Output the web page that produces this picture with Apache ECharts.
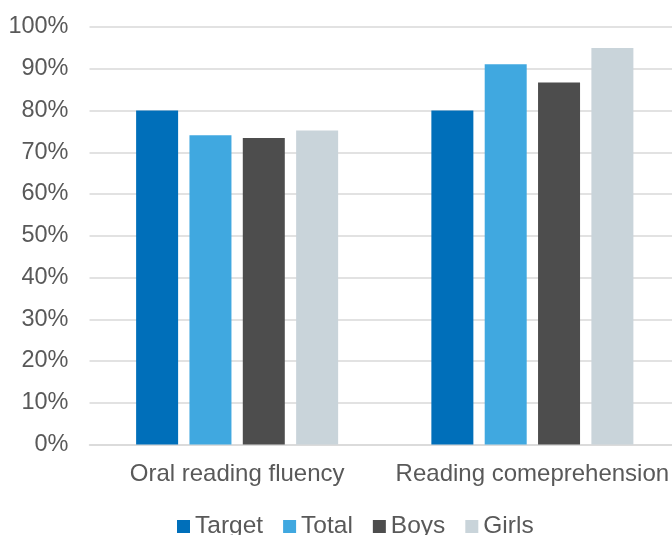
<!DOCTYPE html>
<html>
<head>
<meta charset="utf-8">
<script src="https://cdn.jsdelivr.net/npm/echarts@6/dist/echarts.min.js"></script>
<style>
  html, body { margin: 0; padding: 0; background: #fff; overflow: hidden; }
  #frame { width: 672px; height: 535px; overflow: hidden; }
  #chart { width: 680px; height: 535px; }
</style>
</head>
<body>
<div id="frame"><div id="chart"></div></div>
<script>
// Categories and percentage values for each group
const categories = ['Oral reading fluency', 'Reading comeprehension'];
const seriesNames = ['Target', 'Total', 'Boys', 'Girls'];
const targetValues = [80, 80];
const totalValues = [74.1, 91.1];
const boysValues = [73.4, 86.7];
const girlsValues = [75.2, 95.0];
const yTicks = { min: 0, max: 100, interval: 10 };

const colors = ['#006fba', '#40a8e0', '#4d4d4d', '#c9d4da'];
const valueSets = [targetValues, totalValues, boysValues, girlsValues];
const font = "'Liberation Sans', Arial, sans-serif";
const textColor = '#595959';

const chart = echarts.init(document.getElementById('chart'), null, { renderer: 'canvas' });

chart.setOption({
  animation: false,
  color: colors,
  grid: { left: 89.5, right: 0, top: 27, bottom: 90.5 },
  legend: {
    data: seriesNames,
    top: 514,
    left: 177,
    padding: 0,
    icon: 'rect',
    itemWidth: 13,
    itemHeight: 13,
    itemGap: 20,
    textStyle: { fontFamily: font, fontSize: 24.5, color: textColor }
  },
  xAxis: {
    type: 'category',
    data: categories,
    axisTick: { show: false },
    axisLine: { lineStyle: { color: '#d9d9d9', width: 1.5 } },
    axisLabel: { interval: 0, hideOverlap: false, fontFamily: font, fontSize: 24, color: textColor, margin: 18 }
  },
  yAxis: {
    type: 'value',
    min: yTicks.min,
    max: yTicks.max,
    interval: yTicks.interval,
    axisLine: { show: false },
    axisTick: { show: false },
    splitLine: { lineStyle: { color: '#d9d9d9', width: 1.5 } },
    axisLabel: { fontFamily: font, fontSize: 23.5, color: textColor, margin: 21, formatter: '{value}%' }
  },
  series: seriesNames.map((name, i) => ({
    name: name,
    type: 'bar',
    data: valueSets[i],
    barWidth: 42,
    barGap: '27%'
  }))
});
</script>
</body>
</html>
